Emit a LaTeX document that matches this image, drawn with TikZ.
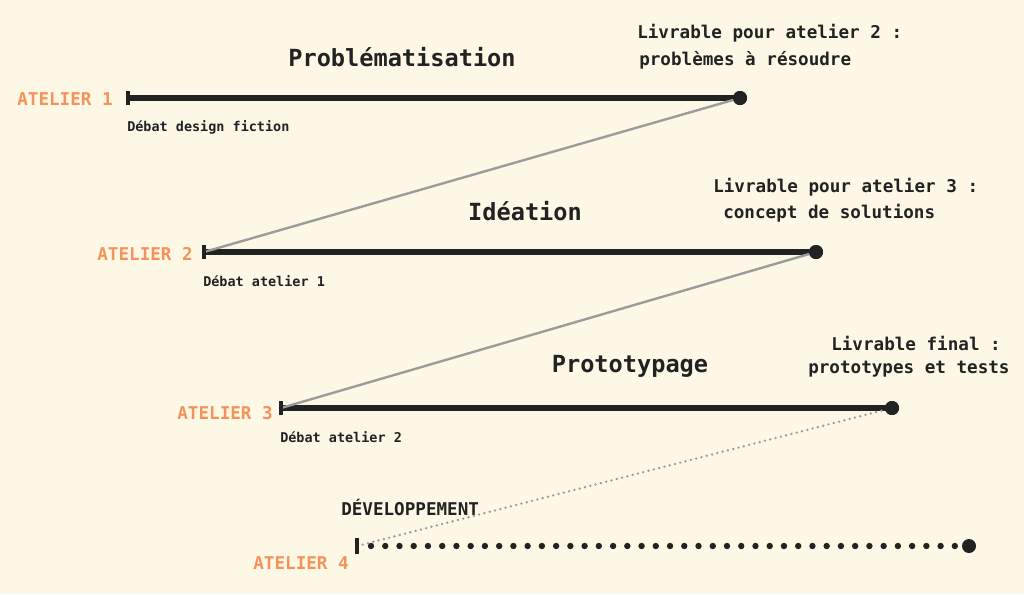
\documentclass[tikz,border=0pt]{standalone}
\usepackage{fontspec}
\setmonofont{DejaVu Sans Mono}
\usetikzlibrary{positioning}
\definecolor{creme}{HTML}{FDF8E6}
\definecolor{orangeat}{HTML}{F5925A}
\definecolor{encre}{HTML}{222222}
\definecolor{gristrait}{HTML}{9C9C9C}
\tikzstyle{atelier} = [inner sep=0pt, anchor=east, text=orangeat, font=\ttfamily\bfseries\fontsize{13.2}{15}\selectfont]
\tikzstyle{debat} = [inner sep=0pt, anchor=west, text=encre, font=\ttfamily\bfseries\fontsize{10.1}{12}\selectfont]
\tikzstyle{phasetitle} = [inner sep=0pt, text=encre, font=\ttfamily\bfseries\fontsize{17.7}{20}\selectfont]
\tikzstyle{livrable} = [inner sep=0pt, anchor=west, text=encre, font=\ttfamily\bfseries\fontsize{13.2}{15}\selectfont]
\tikzstyle{tick} = [rectangle, fill=encre, inner sep=0pt, minimum width=2.6pt, minimum height=11pt]
\tikzstyle{enddot} = [circle, fill=encre, inner sep=0pt, minimum size=10.5pt]
\tikzstyle{phaseline} = [encre, line width=4.5pt]
\tikzstyle{link} = [gristrait, line width=1.8pt]
\tikzstyle{linkdots} = [gristrait, line width=2pt, line cap=round, dash pattern=on 0pt off 4.1pt]
\tikzstyle{devline} = [encre, line width=4.8pt, line cap=round, dash pattern=on 0pt off 10.68pt]

\begin{document}
\begin{tikzpicture}[x=0.75pt,y=-0.75pt]
\fill[creme] (0,0) rectangle (1024,594);
\useasboundingbox (0,0) rectangle (1024,594);

% atelier 1
\node (t1) [tick] at (128,98) {};
\node (d1) [enddot] at (740,98) {};
\node (lab1) [atelier] at (113,99) {ATELIER 1};
\node (deb1) [debat] at (127,127) {Débat design fiction};
\node (ph1) [phasetitle] at (402,57) {Problématisation};
\node (liv1a) [livrable] at (637,33) {Livrable pour atelier 2 :};
\node (liv1b) [livrable] at (639,60) {problèmes à résoudre};

% atelier 2
\node (t2) [tick] at (204,252) {};
\node (d2) [enddot] at (816,252) {};
\node (lab2) [atelier] at (193,254) {ATELIER 2};
\node (deb2) [debat] at (203,281) {Débat atelier 1};
\node (ph2) [phasetitle] at (525,211) {Idéation};
\node (liv2a) [livrable] at (713,187) {Livrable pour atelier 3 :};
\node (liv2b) [livrable] at (723,213) {concept de solutions};

% atelier 3
\node (t3) [tick] at (281,408) {};
\node (d3) [enddot] at (892,408) {};
\node (lab3) [atelier] at (273,413) {ATELIER 3};
\node (deb3) [debat] at (280,437) {Débat atelier 2};
\node (ph3) [phasetitle] at (630,366) {Prototypage};
\node (liv3a) [livrable] at (831,343) {Livrable final :};
\node (liv3b) [livrable] at (808,369) {prototypes et tests};

% atelier 4
\node (t4) [tick, minimum height=12pt] at (357,546) {};
\coordinate (s4) at (371,546);
\node (d4) [enddot] at (969,546) {};
\node (lab4) [atelier] at (349,563) {ATELIER 4};
\node (ph4) [livrable] at (341,507) {DÉVELOPPEMENT};

\draw [phaseline] (t1.center) -- (d1.center);
\draw [phaseline] (t2.center) -- (d2.center);
\draw [phaseline] (t3.center) -- (d3.center);
\draw [devline] (s4) -- (d4.center);

\draw [link] (d1.center) -- (t2.center);
\draw [link] (d2.center) -- (t3.center);
\draw [linkdots] (d3.center) -- (t4.center);

\node [tick] at (t1) {};
\node [tick] at (t2) {};
\node [tick] at (t3) {};
\node [tick, minimum height=12pt] at (t4) {};
\node [enddot] at (d1) {};
\node [enddot] at (d2) {};
\node [enddot] at (d3) {};
\end{tikzpicture}
\end{document}
